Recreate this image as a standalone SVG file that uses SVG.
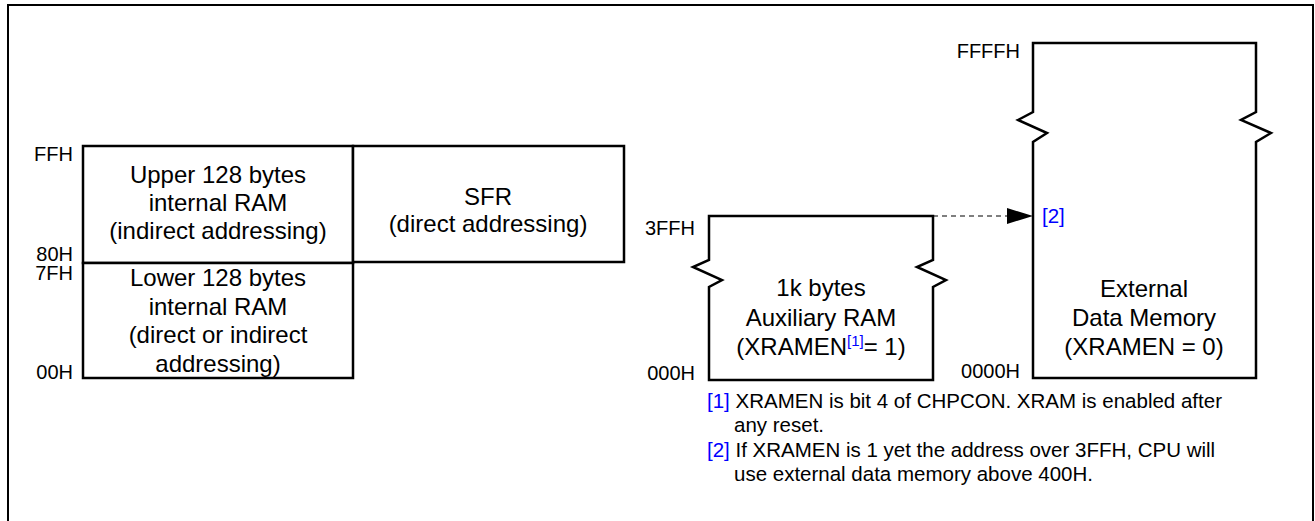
<svg xmlns="http://www.w3.org/2000/svg" width="1315" height="521" viewBox="0 0 1315 521">
<style>
.box{fill:#fff;stroke:#000;stroke-width:2.5;stroke-linejoin:miter}
.t{font-family:"Liberation Sans",Arial,sans-serif;font-size:24px;fill:#000;text-anchor:middle}
.lbl{font-family:"Liberation Sans",Arial,sans-serif;font-size:20px;fill:#000;text-anchor:end}
.note{font-family:"Liberation Sans",Arial,sans-serif;font-size:20.5px;fill:#000}
.ref{fill:#0000ff}
</style>
<defs>
<marker id="arr" markerWidth="26" markerHeight="16" refX="26" refY="8" orient="auto" markerUnits="userSpaceOnUse">
<path d="M0,0 L26,8 L0,16 Z" fill="#000"/>
</marker>
</defs>
<rect x="8" y="5" width="1305" height="540" fill="#fff" stroke="#000" stroke-width="2"/>
<g id="upper-ram">
<rect class="box" x="83" y="146" width="270" height="117"/>
<text class="t" x="218" y="183">Upper 128 bytes</text>
<text class="t" x="218" y="211">internal RAM</text>
<text class="t" x="218" y="239">(indirect addressing)</text>
</g>
<g id="lower-ram">
<rect class="box" x="83" y="263" width="270" height="115"/>
<text class="t" x="218" y="286">Lower 128 bytes</text>
<text class="t" x="218" y="315">internal RAM</text>
<text class="t" x="218" y="343">(direct or indirect</text>
<text class="t" x="218" y="372">addressing)</text>
</g>
<g id="sfr">
<rect class="box" x="353" y="146" width="271" height="116"/>
<text class="t" x="488" y="205">SFR</text>
<text class="t" x="488" y="232">(direct addressing)</text>
</g>
<g id="left-labels">
<text class="lbl" x="73" y="261">80H</text>
<text class="lbl" x="73" y="280">7FH</text>
<text class="lbl" x="73" y="161">FFH</text>
<text class="lbl" x="73" y="379">00H</text>
</g>
<g id="aux-ram">
<path class="box" d="M709,216 L933,216 L933,260 L917,267 L946,280 L933,287 L933,380 L709,380 L709,287 L722,280 L693,267 L709,260 Z"/>
<text class="t" x="821" y="296">1k bytes</text>
<text class="t" x="821" y="326">Auxiliary RAM</text>
<text class="t" x="821" y="355">(XRAMEN<tspan class="ref" font-size="15" dy="-9">[1]</tspan><tspan dy="9">= 1)</tspan></text>
<text class="lbl" x="695" y="235">3FFH</text>
<text class="lbl" x="695" y="380">000H</text>
</g>
<g id="external-memory">
<path class="box" d="M1033,43 L1256,43 L1256,112 L1241,120 L1271,133 L1256,142 L1256,378 L1033,378 L1033,142 L1047,133 L1018,120 L1033,112 Z"/>
<text class="t" x="1144" y="297">External</text>
<text class="t" x="1144" y="326">Data Memory</text>
<text class="t" x="1144" y="355">(XRAMEN = 0)</text>
<text class="lbl" x="1020" y="58">FFFFH</text>
<text class="lbl" x="1020" y="378">0000H</text>
<text class="note ref" x="1042" y="223" font-size="15">[2]</text>
</g>
<g id="connectors">
<line x1="933" y1="216" x2="1033" y2="216" stroke="#000" stroke-width="1.2" stroke-dasharray="5,4" marker-end="url(#arr)"/>
</g>
<g id="notes">
<text class="note" x="707" y="408"><tspan class="ref">[1]</tspan> XRAMEN is bit 4 of CHPCON. XRAM is enabled after</text>
<text class="note" x="734" y="432">any reset.</text>
<text class="note" x="707" y="457"><tspan class="ref">[2]</tspan> If XRAMEN is 1 yet the address over 3FFH, CPU will</text>
<text class="note" x="734" y="481">use external data memory above 400H.</text>
</g>
</svg>
